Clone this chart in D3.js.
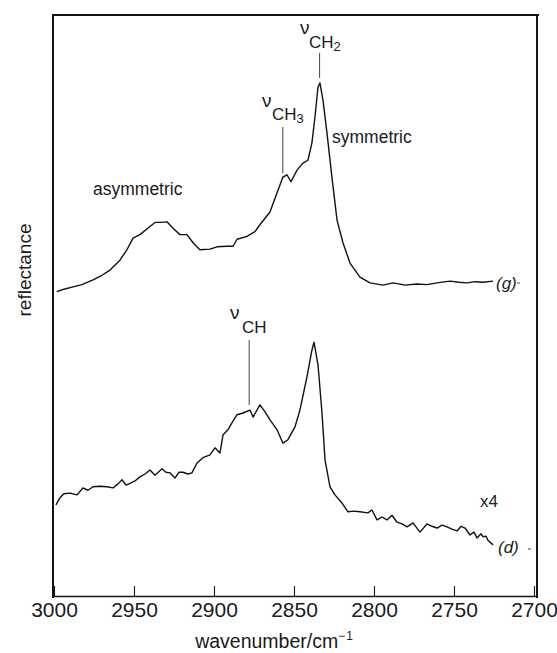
<!DOCTYPE html>
<html><head><meta charset="utf-8">
<script src="https://cdn.jsdelivr.net/npm/d3@7"></script>
<style>
body{margin:0;background:#fff;}
svg{display:block;}
text{font-family:"Liberation Sans",Arial,Helvetica,sans-serif;fill:#1a1a1a;}
</style></head>
<body><svg id="chart" width="557" height="653" viewBox="0 0 557 653"></svg>
<script>
// wavenumbers (cm^-1) and reflectance (arbitrary units, offset) for trace (g)
const gWavenumber = [2998.3,2993.8,2988.1,2982.5,2975.6,2970.0,2965.0,2958.8,2954.4,2950.6,2946.3,2940.0,2936.9,2933.1,2929.4,2925.6,2921.3,2916.9,2913.1,2908.8,2902.5,2898.1,2891.9,2888.1,2885.6,2879.4,2874.4,2871.3,2865.0,2860.6,2856.9,2854.4,2851.9,2848.1,2844.4,2841.3,2838.8,2836.9,2835.0,2833.8,2831.9,2829.4,2826.3,2823.1,2819.4,2815.0,2808.8,2802.5,2794.4,2788.1,2780.6,2773.1,2766.9,2760.6,2752.5,2746.9,2741.9,2736.9,2731.9,2725.6];
const gReflectance = [5.24,5.28,5.32,5.36,5.44,5.52,5.61,5.78,5.96,6.16,6.22,6.36,6.43,6.43,6.44,6.33,6.22,6.22,6.08,5.96,5.97,6.01,6.02,6.02,6.14,6.19,6.27,6.39,6.61,6.94,7.21,7.25,7.13,7.33,7.45,7.50,7.80,8.24,8.76,8.83,8.54,7.97,7.21,6.47,6.08,5.73,5.49,5.39,5.35,5.39,5.35,5.37,5.36,5.39,5.42,5.40,5.39,5.41,5.40,5.42];
// trace (d), x4
const dWavenumber = [2998.8,2996.3,2993.8,2990.0,2985.6,2981.9,2978.8,2975.6,2971.3,2966.9,2963.1,2960.0,2957.5,2955.0,2952.5,2949.4,2946.3,2943.1,2940.0,2936.9,2932.5,2930.0,2927.5,2924.4,2921.9,2919.4,2916.3,2913.8,2910.6,2906.9,2902.5,2899.4,2896.3,2894.4,2891.3,2888.8,2885.6,2881.9,2877.5,2875.6,2871.3,2868.1,2865.0,2860.6,2856.9,2853.8,2849.4,2846.3,2841.9,2838.8,2837.5,2835.0,2832.5,2830.6,2827.5,2824.4,2820.0,2816.3,2812.5,2808.8,2803.8,2801.3,2798.1,2795.0,2791.9,2788.8,2785.6,2782.5,2779.4,2775.6,2771.3,2766.9,2763.8,2760.6,2757.5,2754.4,2751.3,2748.1,2745.6,2743.1,2740.0,2737.5,2735.6,2733.1,2731.9,2730.0,2728.8,2725.6];
const dReflectance = [1.57,1.69,1.76,1.77,1.74,1.86,1.82,1.88,1.89,1.88,1.86,1.93,2.00,1.91,1.94,1.98,2.05,2.10,2.17,2.08,2.19,2.13,2.12,2.03,2.13,2.13,2.10,2.12,2.29,2.38,2.43,2.55,2.46,2.77,2.86,2.98,3.12,3.15,3.20,3.08,3.29,3.17,3.03,2.86,2.63,2.69,2.91,3.20,3.77,4.23,4.37,3.98,3.15,2.34,1.88,1.74,1.60,1.45,1.46,1.45,1.43,1.48,1.31,1.36,1.31,1.39,1.27,1.24,1.19,1.26,1.10,1.24,1.20,1.17,1.22,1.19,1.15,1.12,1.20,1.17,1.05,1.10,1.00,1.07,1.02,1.03,0.96,0.88];
const xTicks = [3000,2950,2900,2850,2800,2750,2700];
const bandPositions = [2834, 2857, 2878]; // nu CH2, nu CH3, nu CH

const svg = d3.select("#chart");
const x = d3.scaleLinear().domain([3000,2700]).range([54,534]);
const y = d3.scaleLinear().domain([0,10]).range([596,15]);

// frame edges drawn as thin filled rectangles
const ink = "#151515";
svg.append("rect").attr("x",52).attr("y",14).attr("width",487).attr("height",2).attr("fill",ink);
svg.append("rect").attr("x",52).attr("y",14).attr("width",2).attr("height",584).attr("fill",ink);
svg.append("rect").attr("x",536).attr("y",14).attr("width",2).attr("height",584).attr("fill",ink);

// bottom axis with inward ticks
const ax = svg.append("g").attr("transform","translate(0,596)")
  .call(d3.axisBottom(x).tickValues(xTicks).tickSize(-10).tickPadding(6).tickFormat(d3.format("d")));
ax.select(".domain").attr("stroke",ink).attr("stroke-width",1.6).attr("d","M52,0.5H538");
ax.selectAll(".tick line").attr("stroke",ink).attr("stroke-width",1.1);
ax.selectAll(".tick text").style("font-size","21px").attr("fill","#1a1a1a").attr("font-family","Liberation Sans, Arial, sans-serif");

// axis titles
svg.append("text").attr("x",274).attr("y",648).attr("text-anchor","middle").style("font-size","19.5px")
  .html('wavenumber/cm<tspan dy="-8" style="font-size:12px">\u2212\u200A1</tspan>');
svg.append("text").attr("transform","translate(31,270) rotate(-90)").attr("text-anchor","middle").style("font-size","19px").text("reflectance");

// curves
const line = d3.line().x(d=>x(d[0])).y(d=>y(d[1])).curve(d3.curveLinear);
svg.append("path").datum(d3.zip(gWavenumber,gReflectance)).attr("d",line)
  .attr("fill","none").attr("stroke","#111").attr("stroke-width",1.4).attr("stroke-linejoin","round");
svg.append("path").datum(d3.zip(dWavenumber,dReflectance)).attr("d",line)
  .attr("fill","none").attr("stroke","#111").attr("stroke-width",1.4).attr("stroke-linejoin","round");

// band marker lines
const marks = [[bandPositions[0],53,78],[bandPositions[1],127,173],[bandPositions[2],340,405]];
marks.forEach(m=>{
  svg.append("line").attr("x1",x(m[0])).attr("x2",x(m[0])).attr("y1",m[1]).attr("y2",m[2]).attr("stroke","#444").attr("stroke-width",1);
});

// labels
function nuLabel(nx, ny, sub, sx, sy){
  svg.append("text").attr("x",nx).attr("y",ny).style("font-size","19px").text("\u03bd");
  const t = svg.append("text").attr("x",sx).attr("y",sy).style("font-size","17px");
  t.append("tspan").text("CH");
  if(sub) t.append("tspan").attr("dy",3).style("font-size","13px").text(sub);
}
nuLabel(300,34,"2",309,48);
nuLabel(262,107,"3",272,120);
nuLabel(230,319,"",242,333);

svg.append("text").attr("x",93).attr("y",195).style("font-size","17.5px").text("asymmetric");
svg.append("text").attr("x",332).attr("y",143).style("font-size","17.5px").text("symmetric");
svg.append("text").attr("x",480).attr("y",507).style("font-size","17px").text("x4");
svg.append("text").attr("x",496).attr("y",289).style("font-size","17px").style("font-style","italic").text("(g)");
svg.append("text").attr("x",498).attr("y",553).style("font-size","17px").style("font-style","italic").text("(d)");
svg.append("line").attr("x1",517).attr("x2",520).attr("y1",283).attr("y2",283).attr("stroke","#444");
svg.append("line").attr("x1",528).attr("x2",531).attr("y1",549).attr("y2",549).attr("stroke","#444");
</script></body></html>
